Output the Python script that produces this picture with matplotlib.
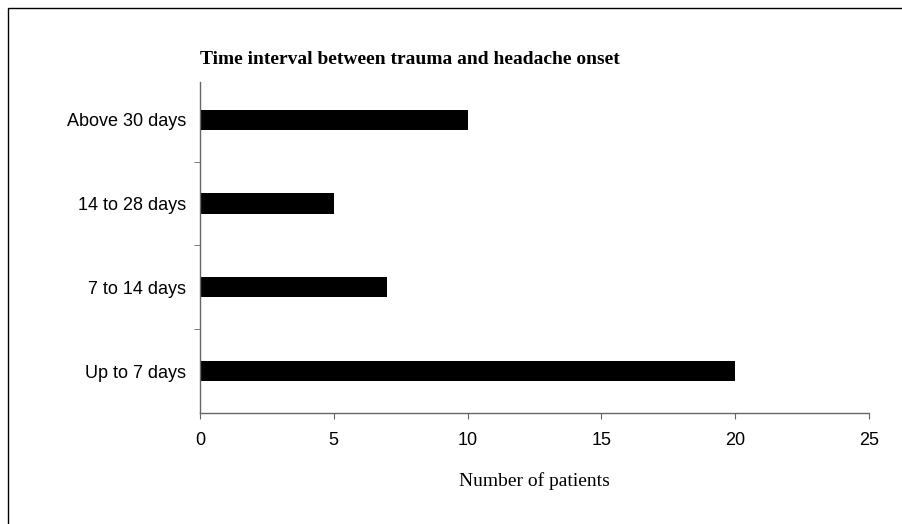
import matplotlib.pyplot as plt
from matplotlib.patches import Rectangle

categories = ['Up to 7 days', '7 to 14 days', '14 to 28 days', 'Above 30 days']
patients = [20, 7, 5, 10]
xticks = [0, 5, 10, 15, 20, 25]

sans = ['Liberation Sans', 'DejaVu Sans']

fig = plt.figure(figsize=(9.02, 5.24), dpi=100)
ax = fig.add_axes([200/902, 1 - 413/524, 669/902, 331/524])

pos = list(range(len(categories)))
ax.barh(pos, patients, height=0.24, color='black')

ax.set_xlim(0, 25)
ax.set_ylim(-0.5, 3.45)
ax.set_xticks(xticks)
ax.set_xticklabels([str(t) for t in xticks], family=sans, fontsize=13)
ax.set_yticks(pos)
ax.set_yticklabels(categories, family=sans, fontsize=13)
ax.set_yticks([p + 0.5 for p in pos[:-1]], minor=True)

ax.tick_params(axis='y', which='major', length=0, pad=10)
ax.tick_params(axis='y', which='minor', length=4, color='#666666', direction='out')
ax.tick_params(axis='x', length=4, color='#666666', direction='out', pad=10)

for s in ['top', 'right']:
  ax.spines[s].set_visible(False)
for s in ['left', 'bottom']:
  ax.spines[s].set_color('#666666')
  ax.spines[s].set_linewidth(1.0)

fig.text(200/902, 1 - 60/524, 'Time interval between trauma and headache onset',
         family='Liberation Serif', fontweight='bold', fontsize=14, va='center', ha='left')
fig.text(534/902, 1 - 481/524, 'Number of patients',
         family='Liberation Serif', fontsize=14, va='center', ha='center')

# frame around the figure
fig.patches.append(Rectangle((8/902, -0.1), 1.2, 1 - 8/524 + 0.1, transform=fig.transFigure,
                             fill=False, edgecolor='black', linewidth=1.0))

fig.savefig('out.png', dpi=100)
